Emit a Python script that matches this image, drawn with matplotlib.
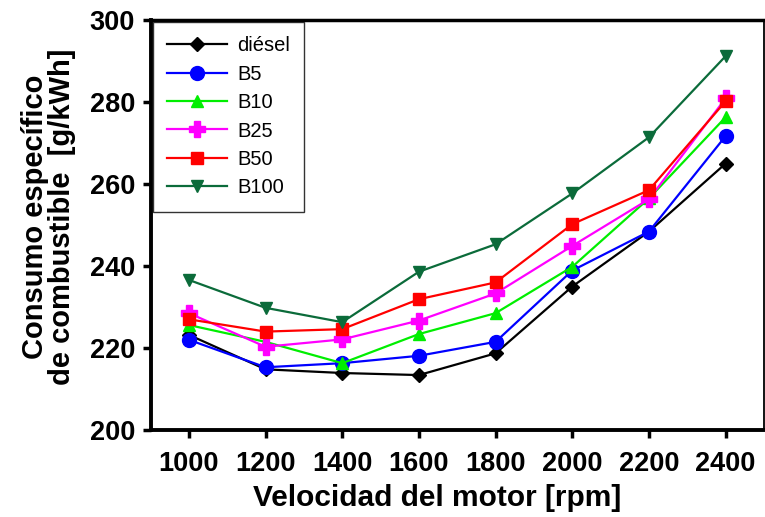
import matplotlib
matplotlib.use("Agg")
import matplotlib.pyplot as plt

rpm = [1000, 1200, 1400, 1600, 1800, 2000, 2200, 2400]
diesel = [223.2, 214.8, 213.9, 213.4, 218.7, 235.0, 248.4, 265.0]
b5 = [222.0, 215.3, 216.3, 218.1, 221.5, 238.9, 248.4, 271.7]
b10 = [225.6, 221.5, 216.3, 223.4, 228.5, 239.8, 256.5, 276.3]
b25 = [228.5, 220.3, 222.1, 226.7, 233.3, 244.9, 256.3, 280.9]
b50 = [227.0, 224.0, 224.6, 231.9, 236.0, 250.2, 258.5, 280.2]
b100 = [236.6, 229.8, 226.3, 238.6, 245.3, 257.7, 271.4, 291.2]

labels = ["diésel", "B5", "B10", "B25", "B50", "B100"]
series = [diesel, b5, b10, b25, b50, b100]
colors = ["#000000", "#0000ff", "#00ee00", "#ff00ff", "#ff0000", "#0b6b3a"]
markers = ["D", "o", "^", "P", "s", "v"]
msizes = [7, 10, 9, 11, 8.5, 9]
yticks = [200, 220, 240, 260, 280, 300]
xticks = [1000, 1200, 1400, 1600, 1800, 2000, 2200, 2400]

plt.rcParams['font.family'] = ['Liberation Sans', 'DejaVu Sans']

fig = plt.figure(figsize=(7.65, 5.17), dpi=100)
ax = fig.add_axes([150.5/765, 1-430/517, (764-150.5)/765, (430-20)/517])

for s, lab, c, m, ms in zip(series, labels, colors, markers, msizes):
    ax.plot(rpm, s, color=c, marker=m, markersize=ms, linewidth=1.6,
            label=lab, markeredgecolor=c, clip_on=False)

ax.set_xlim(900, 2500)
ax.set_ylim(200, 300)
ax.set_xticks(xticks)
ax.set_yticks(yticks)
ax.set_xticklabels([str(x) for x in xticks], fontsize=19.5, fontweight='bold')
ax.set_yticklabels([str(y) for y in yticks], fontsize=19.5, fontweight='bold')
ax.tick_params(axis='both', direction='out', length=6, width=2.5, pad=5)
ax.tick_params(axis='x', pad=9)

for sp in ['left', 'bottom']:
    ax.spines[sp].set_linewidth(2.8)
ax.spines['top'].set_linewidth(2.5)
ax.spines['right'].set_linewidth(1.3)

ax.set_xlabel("Velocidad del motor [rpm]", fontsize=21.5, fontweight='bold', labelpad=5)
ax.xaxis.label.set_x(0.467)
ax.set_ylabel("Consumo específico\nde combustible  [g/kWh]", fontsize=21,
              fontweight='bold', labelpad=10, linespacing=0.95)
ax.yaxis.label.set_y(0.52)

leg = ax.legend(loc='upper left', fontsize=14.5, frameon=True, fancybox=False,
                edgecolor='black', borderaxespad=0.1, handlelength=3.0,
                labelspacing=0.47, borderpad=0.7, handletextpad=0.5)
leg.get_frame().set_linewidth(1.0)

fig.savefig("out.png", dpi=100)
